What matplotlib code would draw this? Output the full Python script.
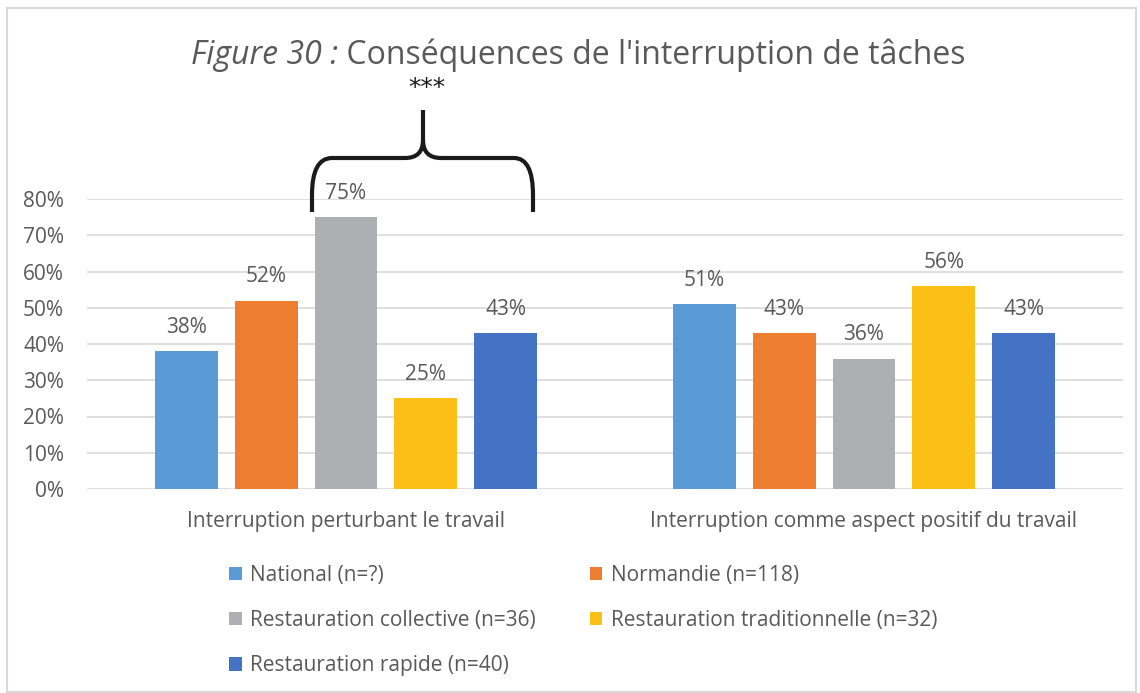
import matplotlib
matplotlib.use("Agg")
import matplotlib.pyplot as plt
import numpy as np
from matplotlib.patches import Rectangle, PathPatch
from matplotlib.path import Path
from matplotlib.offsetbox import TextArea, HPacker, AnchoredOffsetbox

categories = ["Interruption perturbant le travail", "Interruption comme aspect positif du travail"]
series_names = ["National (n=?)", "Normandie (n=118)", "Restauration collective (n=36)",
                "Restauration traditionnelle (n=32)", "Restauration rapide (n=40)"]
national = [38, 51]
normandie = [52, 43]
collective = [75, 36]
traditionnelle = [25, 56]
rapide = [43, 43]
values = [national, normandie, collective, traditionnelle, rapide]
colors = ["#5B9BD5", "#ED7D31", "#AEAFB3", "#FBBF16", "#4472C4"]
yticks = [0, 10, 20, 30, 40, 50, 60, 70, 80]

plt.rcParams['font.family'] = ['Open Sans', 'DejaVu Sans']
txtc = "#595959"
fs = 15

W, H = 1140, 693
fig = plt.figure(figsize=(W / 100, H / 100), dpi=100)
fig.patches.append(Rectangle((7 / W, 1 - 692 / H), (1136 - 7) / W, (692 - 8) / H,
                             transform=fig.transFigure, fill=False, edgecolor="#D9D9D9", lw=1.5))

x0, x1 = 87, 1123
ytop, ybot = 199, 489
ax = fig.add_axes([x0 / W, 1 - ybot / H, (x1 - x0) / W, (ybot - ytop) / H])
ax.set_xlim(-0.5, 1.5)
ax.set_ylim(0, 80)

n = len(values)
slot = 80 / 519.0
bw = 63 / 519.0
xc = np.arange(len(categories))
handles = []
for i, (vals, c, name) in enumerate(zip(values, colors, series_names)):
    pos = xc + (i - (n - 1) / 2) * slot
    b = ax.bar(pos, vals, width=bw, color=c, label=name, zorder=3)
    handles.append(b)
    for p, v in zip(pos, vals):
        ax.text(p, v + 6.6, f"{v}%", ha="center", va="center", fontsize=fs, color=txtc)

ax.set_yticks(yticks)
ax.set_yticklabels([f"{t}%" for t in yticks], fontsize=fs, color=txtc)
ax.set_xticks(xc)
ax.set_xticklabels(categories, fontsize=fs, color=txtc)
ax.tick_params(axis="both", length=0)
ax.tick_params(axis="x", pad=16)
ax.tick_params(axis="y", pad=16.5)
ax.grid(axis="y", color="#D9D9D9", lw=1.2, zorder=0)
for s in ax.spines.values():
    s.set_visible(False)

def fp(x, y):
    return (x / W, 1 - y / H)

pts = [
    (Path.MOVETO, (312, 212)),
    (Path.LINETO, (312, 195)),
    (Path.CURVE3, (312, 158)),
    (Path.CURVE3, (332, 158)),
    (Path.LINETO, (405, 158)),
    (Path.CURVE3, (423, 158)),
    (Path.CURVE3, (423, 140)),
    (Path.LINETO, (423, 110)),
    (Path.MOVETO, (423, 140)),
    (Path.CURVE3, (423, 158)),
    (Path.CURVE3, (441, 158)),
    (Path.LINETO, (514, 158)),
    (Path.CURVE3, (533, 158)),
    (Path.CURVE3, (533, 195)),
    (Path.LINETO, (533, 212)),
]
codes = [c for c, _ in pts]
verts = [fp(*p) for _, p in pts]
fig.patches.append(PathPatch(Path(verts, codes), transform=fig.transFigure, fill=False,
                             edgecolor="#1a1a1a", lw=3, capstyle="butt", joinstyle="round"))
fig.text(427 / W, 1 - 88 / H, "***", ha="center", va="center", fontsize=18, color="#1a1a1a",
         family="DejaVu Sans")

ta = TextArea("Figure 30 :", textprops=dict(fontsize=23, color=txtc, style="italic"))
tb = TextArea(" Conséquences de l'interruption de tâches", textprops=dict(fontsize=23, color=txtc))
hp = HPacker(children=[ta, tb], align="baseline", pad=0, sep=0)
ab = AnchoredOffsetbox(loc="center", child=hp, frameon=False, bbox_to_anchor=(578 / W, 1 - 55 / H),
                       bbox_transform=fig.transFigure, pad=0, borderpad=0)
fig.add_artist(ab)

order = [0, 2, 4, 1, 3]
leg = fig.legend([handles[i] for i in order], [series_names[i] for i in order], ncol=2,
                 loc="upper left", bbox_to_anchor=(229 / W, 1 - 565 / H), frameon=False,
                 fontsize=fs, handlelength=0.6, handleheight=0.6, handletextpad=0.4,
                 columnspacing=2.6, labelspacing=1.16, labelcolor=txtc,
                 borderpad=0, borderaxespad=0)

fig.savefig("out.png", dpi=100)
